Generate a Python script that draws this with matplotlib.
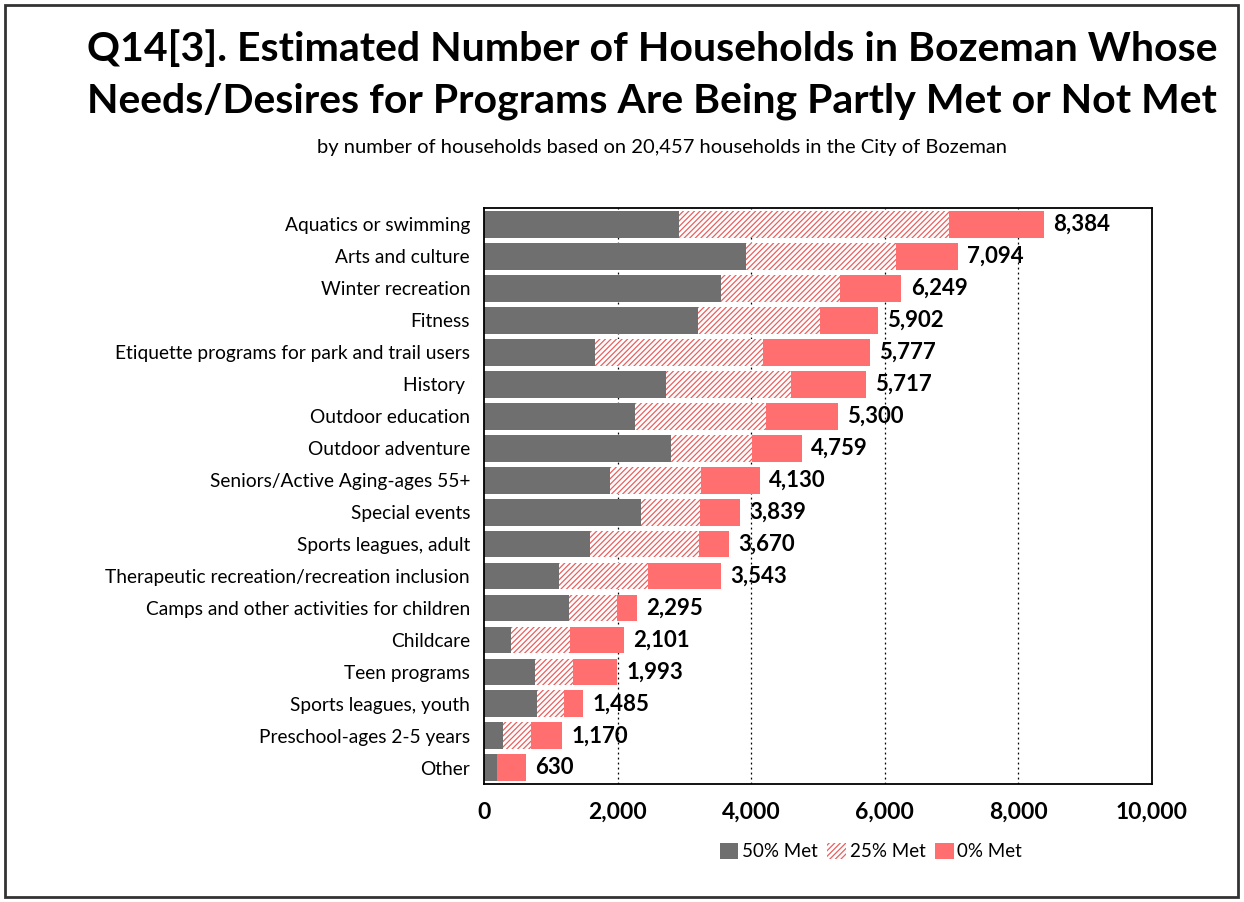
import numpy as np
import matplotlib
matplotlib.use("Agg")
import matplotlib.pyplot as plt
from matplotlib.patches import Rectangle, Patch

plt.rcParams['font.family'] = ['Lato', 'DejaVu Sans']
plt.rcParams['hatch.linewidth'] = 0.9

categories = ["Aquatics or swimming", "Arts and culture", "Winter recreation", "Fitness",
              "Etiquette programs for park and trail users", "History ", "Outdoor education",
              "Outdoor adventure", "Seniors/Active Aging-ages 55+", "Special events",
              "Sports leagues, adult", "Therapeutic recreation/recreation inclusion",
              "Camps and other activities for children", "Childcare", "Teen programs",
              "Sports leagues, youth", "Preschool-ages 2-5 years", "Other"]
met50 = [2915, 3916, 3556, 3206, 1656, 2732, 2257, 2801, 1891, 2348, 1582, 1124, 1275, 399, 767, 797, 279, 190]
met25 = [4045, 2248, 1767, 1825, 2523, 1870, 1962, 1218, 1361, 881, 1636, 1339, 723, 891, 563, 399, 419, 0]
met0 = [1424, 930, 926, 871, 1598, 1115, 1081, 740, 878, 610, 452, 1080, 297, 811, 663, 289, 472, 440]
totals = [8384, 7094, 6249, 5902, 5777, 5717, 5300, 4759, 4130, 3839, 3670, 3543, 2295, 2101, 1993, 1485, 1170, 630]
xticks = [0, 2000, 4000, 6000, 8000, 10000]

gray = "#6f6f6f"
red = "#ff6f6f"
hatch_red = "#e8605f"

fig = plt.figure(figsize=(12.44, 9.02), dpi=100)
ax = fig.add_axes([0.389, 0.131, 0.537, 0.638])

y = np.arange(len(categories))
a = np.array(met50)
b = np.array(met25)
c = np.array(met0)
h = 0.84
ax.barh(y, a, height=h, color=gray, linewidth=0, zorder=2)
ax.barh(y, b, left=a, height=h, facecolor="white", edgecolor=hatch_red, hatch="//////", linewidth=0, zorder=2)
ax.barh(y, c, left=a + b, height=h, color=red, linewidth=0, zorder=2)

for yi, t in zip(y, totals):
    ax.text(t + 140, yi, f"{t:,}", va="center", ha="left", fontsize=16, fontweight="bold", zorder=3)

ax.set_xlim(0, 10000)
ax.set_ylim(len(categories) - 0.5, -0.5)
ax.set_yticks(y)
ax.set_yticklabels(categories, fontsize=13.8)
ax.set_xticks(xticks)
ax.set_xticklabels([f"{v:,}" for v in xticks], fontsize=16.5, fontweight="bold")
ax.tick_params(axis="y", length=0, pad=10)
ax.tick_params(axis="x", length=0, pad=13)
for v in xticks[1:-1]:
    ax.axvline(v, color="black", linestyle=(0, (1.5, 2.5)), linewidth=0.9, zorder=1)
for s in ax.spines.values():
    s.set_linewidth(1.3)
    s.set_color("black")

fig.text(0.524, 0.946, "Q14[3]. Estimated Number of Households in Bozeman Whose",
         ha="center", va="center", fontsize=29.5, fontweight="bold")
fig.text(0.524, 0.888, "Needs/Desires for Programs Are Being Partly Met or Not Met",
         ha="center", va="center", fontsize=29.5, fontweight="bold")
fig.text(0.532, 0.836, "by number of households based on 20,457 households in the City of Bozeman",
         ha="center", va="center", fontsize=14.5)

handles = [Patch(facecolor=gray, linewidth=0),
           Patch(facecolor="white", edgecolor=hatch_red, hatch="//////", linewidth=0),
           Patch(facecolor=red, linewidth=0)]
fig.legend(handles, ["50% Met", "25% Met", "0% Met"], loc="center", bbox_to_anchor=(0.7, 0.056),
           ncol=3, frameon=False, fontsize=13.5, handlelength=1.0, handleheight=1.0,
           handletextpad=0.2, columnspacing=0.5)

fig.add_artist(Rectangle((0.004, 0.006), 0.991, 0.988, transform=fig.transFigure,
                         fill=False, edgecolor="#333333", linewidth=2))

fig.savefig("out.png", dpi=100)
